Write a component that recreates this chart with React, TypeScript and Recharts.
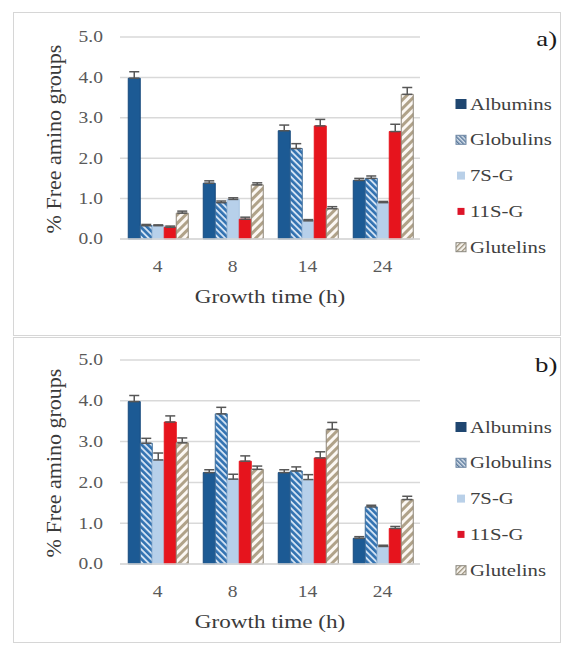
import React from 'react';
import { BarChart, Bar, XAxis, YAxis, CartesianGrid, ErrorBar, Legend } from 'recharts';

// Growth times (h) on the category axis
const hours = ['4', '8', '14', '24'];
const yTicks = [0, 1, 2, 3, 4, 5];

// Panel a) — % free amino groups per protein fraction
const albuminsA = [3.98, 1.38, 2.68, 1.45];
const globulinsA = [0.33, 0.9, 2.24, 1.5];
const sevenSA = [0.33, 0.98, 0.45, 0.9];
const elevenSA = [0.29, 0.49, 2.8, 2.66];
const glutelinsA = [0.64, 1.34, 0.75, 3.58];

const albuminsErrA = [0.16, 0.06, 0.14, 0.05];
const globulinsErrA = [0.03, 0.04, 0.12, 0.06];
const sevenSErrA = [0.02, 0.04, 0.03, 0.03];
const elevenSErrA = [0.03, 0.05, 0.16, 0.18];
const glutelinsErrA = [0.05, 0.05, 0.05, 0.17];

// Panel b)
const albuminsB = [3.98, 2.24, 2.24, 0.63];
const globulinsB = [2.96, 3.68, 2.28, 1.4];
const sevenSB = [2.55, 2.08, 2.07, 0.43];
const elevenSB = [3.48, 2.52, 2.6, 0.87];
const glutelinsB = [2.97, 2.32, 3.3, 1.58];

const albuminsErrB = [0.15, 0.07, 0.07, 0.04];
const globulinsErrB = [0.12, 0.16, 0.1, 0.04];
const sevenSErrB = [0.17, 0.12, 0.12, 0.03];
const elevenSErrB = [0.15, 0.13, 0.15, 0.05];
const glutelinsErrB = [0.12, 0.08, 0.17, 0.08];

const seriesNames = ['Albumins', 'Globulins', '7S-G', '11S-G', 'Glutelins'];
const seriesKeys = ['alb', 'glob', 's7', 's11', 'glu'];

const FONT = '"Liberation Serif", "Times New Roman", serif';
const STRETCH = 1.22;
const PANEL_W = 548;
const PLOT_LEFT = 107;
const PLOT_W = 300;
const PLOT_BOTTOM = 227;

type Row = Record<string, string | number | number[]>;

function buildRows(vals: number[][], errs: number[][]): Row[] {
  return hours.map((t, i) => {
    const row: Row = { t };
    seriesKeys.forEach((k, s) => {
      row[k] = vals[s][i];
      row[k + 'Err'] = [0, errs[s][i]];
    });
    return row;
  });
}

const rowsA = buildRows(
  [albuminsA, globulinsA, sevenSA, elevenSA, glutelinsA],
  [albuminsErrA, globulinsErrA, sevenSErrA, elevenSErrA, glutelinsErrA]
);
const rowsB = buildRows(
  [albuminsB, globulinsB, sevenSB, elevenSB, glutelinsB],
  [albuminsErrB, globulinsErrB, sevenSErrB, elevenSErrB, glutelinsErrB]
);

function barStyle(key: string, id: string) {
  switch (key) {
    case 'alb':
      return { fill: '#1c5a94', stroke: '#174a7c' };
    case 'glob':
      return { fill: `url(#glob-${id})`, stroke: '#3d6c9a' };
    case 's7':
      return { fill: '#b7d0ea', stroke: '#a5c2e0' };
    case 's11':
      return { fill: '#e6141d', stroke: '#e6141d' };
    default:
      return { fill: `url(#glu-${id})`, stroke: '#8e877a' };
  }
}

const YTick = (props: any) => {
  const { x, y, payload } = props;
  return (
    <g transform={`translate(${x},${y})`}>
      <text
        x={0}
        y={0}
        dy={5.3}
        transform={`scale(${STRETCH},1)`}
        textAnchor="end"
        fontFamily={FONT}
        fontSize={16}
        fill="#595959"
      >
        {Number(payload.value).toFixed(1)}
      </text>
    </g>
  );
};

const XTick = (props: any) => {
  const { x, y, payload } = props;
  return (
    <g transform={`translate(${x},${y})`}>
      <text
        x={0}
        y={33}
        transform={`scale(${STRETCH},1)`}
        textAnchor="middle"
        fontFamily={FONT}
        fontSize={16}
        fill="#595959"
      >
        {payload.value}
      </text>
    </g>
  );
};

function LegendMarker({ k, id, cy }: { k: string; id: string; cy: number }) {
  const cx = 6;
  if (k === 'alb') return <rect x={cx - 5.5} y={cy - 5} width={11} height={10} fill="#1f4670" />;
  if (k === 'glob')
    return <rect x={cx - 5} y={cy - 4.5} width={10} height={9} fill={`url(#lg-glob-${id})`} stroke="#6d86a3" strokeWidth={1} />;
  if (k === 's7') return <rect x={cx - 4} y={cy - 4} width={8} height={8} fill="#b9d0e8" />;
  if (k === 's11') return <rect x={cx - 3.5} y={cy - 3.5} width={7} height={7} fill="#dd1428" />;
  return <rect x={cx - 5} y={cy - 4.5} width={10} height={9} fill={`url(#lg-glu-${id})`} stroke="#8a877e" strokeWidth={1} />;
}

function makeLegend(id: string) {
  return () => (
    <svg width={112} height={170} style={{ display: 'block', overflow: 'visible' }}>
      <defs>
        <pattern id={`lg-glob-${id}`} patternUnits="userSpaceOnUse" width={3} height={3} patternTransform="rotate(-45)">
          <rect width={3} height={3} fill="#d6e0ea" />
          <rect width={1.4} height={3} fill="#56759a" />
        </pattern>
        <pattern id={`lg-glu-${id}`} patternUnits="userSpaceOnUse" width={3.5} height={3.5} patternTransform="rotate(45)">
          <rect width={3.5} height={3.5} fill="#f7f4ee" />
          <rect width={1.4} height={3.5} fill="#a49a86" />
        </pattern>
      </defs>
      {seriesKeys.map((k, i) => {
        const cy = 10 + i * 35.8;
        return (
          <g key={k}>
            <LegendMarker k={k} id={id} cy={cy} />
            <text
              x={0}
              y={0}
              transform={`translate(15,${cy + 5.6}) scale(${STRETCH},1)`}
              fontFamily={FONT}
              fontSize={17}
              fill="#404040"
            >
              {seriesNames[i]}
            </text>
          </g>
        );
      })}
    </svg>
  );
}

type PanelProps = {
  id: string;
  tag: string;
  top: number;
  height: number;
  plotTop: number;
  rows: Row[];
  legendTop: number;
  tagBaseline: number;
};

function Panel({ id, tag, top, height, plotTop, rows, legendTop, tagBaseline }: PanelProps) {
  const plotH = PLOT_BOTTOM - plotTop;
  const xAxisH = 60;
  const bottom = height - PLOT_BOTTOM - xAxisH;
  const tagFont = 22;
  return (
    <div style={{ position: 'absolute', left: 13, top, width: PANEL_W, height }}>
      <BarChart
        width={PANEL_W}
        height={height}
        data={rows}
        margin={{ top: plotTop, right: PANEL_W - PLOT_LEFT - PLOT_W, bottom, left: 0 }}
        barCategoryGap="11%"
        barGap={0}
      >
        <defs>
          <pattern id={`glob-${id}`} patternUnits="userSpaceOnUse" width={4.5} height={4.5} patternTransform="rotate(-45)">
            <rect width={4.5} height={4.5} fill="#d2e2f3" />
            <rect width={2.6} height={4.5} fill="#3272b1" />
          </pattern>
          <pattern id={`glu-${id}`} patternUnits="userSpaceOnUse" width={6} height={6} patternTransform="rotate(45)">
            <rect width={6} height={6} fill="#fcf8f4" />
            <rect width={3} height={6} fill="#b0a289" />
          </pattern>
        </defs>
        <CartesianGrid vertical={false} stroke="#d9d9d9" strokeWidth={1.5} />
        <XAxis
          dataKey="t"
          height={xAxisH}
          interval={0}
          tickLine={false}
          tickSize={0}
          tickMargin={0}
          axisLine={{ stroke: '#d9d9d9', strokeWidth: 1.5 }}
          tick={<XTick />}
          label={() => (
            <text
              x={0}
              y={0}
              transform={`translate(${PLOT_LEFT + PLOT_W / 2},${PLOT_BOTTOM + 64}) scale(${STRETCH},1)`}
              textAnchor="middle"
              fontFamily={FONT}
              fontSize={19}
              fill="#3a3a3a"
            >
              Growth time (h)
            </text>
          )}
        />
        <YAxis
          width={PLOT_LEFT}
          domain={[0, 5]}
          ticks={yTicks}
          interval={0}
          axisLine={false}
          tickLine={false}
          tickSize={0}
          tickMargin={17}
          tick={<YTick />}
          label={() => (
            <text
              x={0}
              y={0}
              transform={`translate(48,${plotTop + plotH / 2 + 1}) rotate(-90)`}
              textAnchor="middle"
              fontFamily={FONT}
              fontSize={22}
              fill="#3a3a3a"
            >
              % Free amino groups
            </text>
          )}
        />
        {seriesKeys.map((k, i) => {
          const st = barStyle(k, id);
          return (
            <Bar
              key={k}
              dataKey={k}
              name={seriesNames[i]}
              fill={st.fill}
              stroke={st.stroke}
              strokeWidth={1}
              isAnimationActive={false}
            >
              <ErrorBar
                dataKey={k + 'Err'}
                direction="y"
                width={5}
                stroke="#575757"
                strokeWidth={1.5}
                isAnimationActive={false}
              />
            </Bar>
          );
        })}
        <Legend
          layout="vertical"
          align="center"
          verticalAlign="middle"
          content={makeLegend(id)}
          wrapperStyle={{ left: 442, top: legendTop, width: 112, height: 170 }}
        />
      </BarChart>
      <div
        style={{
          position: 'absolute',
          right: 4,
          top: tagBaseline - tagFont * 0.8375,
          fontFamily: FONT,
          fontSize: tagFont,
          lineHeight: 1,
          color: '#1a1a1a',
          transform: `scaleX(${STRETCH})`,
          transformOrigin: 'right',
          whiteSpace: 'nowrap',
        }}
      >
        {tag}
      </div>
      <div
        style={{
          position: 'absolute',
          left: 0,
          top: 0,
          width: PANEL_W,
          height,
          boxSizing: 'border-box',
          border: '1.5px solid #d6d6d6',
          pointerEvents: 'none',
        }}
      />
    </div>
  );
}

export default function App() {
  return (
    <div
      style={{
        position: 'absolute',
        left: 0,
        top: 0,
        width: 568,
        height: 654,
        background: '#ffffff',
        overflow: 'hidden',
      }}
    >
      <Panel id="a" tag="a)" top={12} height={324} plotTop={25} rows={rowsA} legendTop={82} tagBaseline={34} />
      <Panel id="b" tag="b)" top={337} height={306} plotTop={23} rows={rowsB} legendTop={80} tagBaseline={35} />
    </div>
  );
}
